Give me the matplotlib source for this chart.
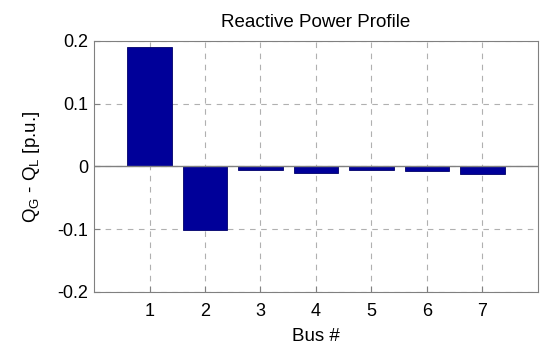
import numpy as np
import matplotlib
matplotlib.use("Agg")
import matplotlib.pyplot as plt

# bus numbers and net reactive power (p.u.)
buses = [1, 2, 3, 4, 5, 6, 7]
q_net = [0.191, -0.102, -0.005, -0.010, -0.005, -0.0075, -0.012]

plt.rcParams['font.family'] = ['Liberation Sans', 'DejaVu Sans']
plt.rcParams['mathtext.default'] = 'regular'

fig = plt.figure(figsize=(5.5, 3.53), dpi=100)
ax = fig.add_axes([0.171, 0.173, 0.807, 0.711])

ax.bar(buses, q_net, width=0.8, color='#000099', edgecolor='#00006a', linewidth=0.6, zorder=3)
ax.axhline(0, color='#808080', linewidth=1.0, zorder=4)

ax.set_xlim(0, 8)
ax.set_ylim(-0.2, 0.2)
ax.set_xticks(buses)
ax.set_yticks([-0.2, -0.1, 0, 0.1, 0.2])
ax.set_yticklabels(['-0.2', '-0.1', '0', '0.1', '0.2'])
ax.grid(True, linestyle=(0, (5, 5)), color='#b0b0b0', linewidth=0.8, zorder=0)

for s in ax.spines.values():
    s.set_color('#808080')
ax.tick_params(direction='in', colors='#808080', labelcolor='black', labelsize=13, length=4)
ax.tick_params(axis='x', pad=8)
ax.tick_params(axis='y', pad=4)

ax.set_title('Reactive Power Profile', fontsize=13.5, pad=10)
ax.set_xlabel('Bus #', fontsize=13.5, labelpad=6)
ax.set_ylabel('Q$_G$ - Q$_L$ [p.u.]', fontsize=13.5, labelpad=11)

fig.savefig('out.png', dpi=100)
